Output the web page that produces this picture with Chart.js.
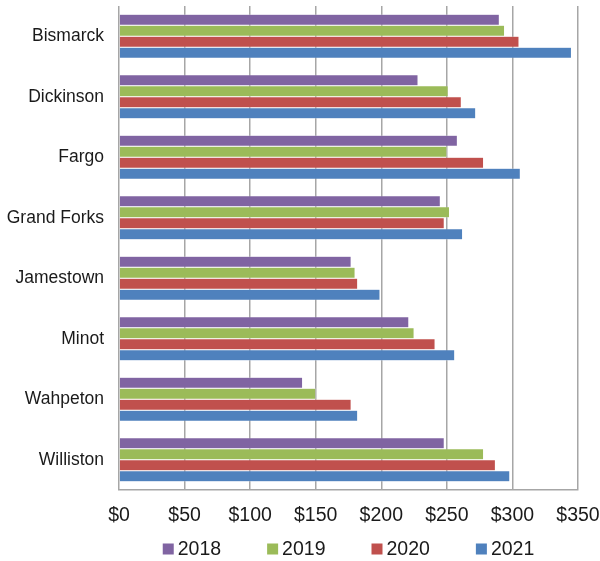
<!DOCTYPE html>
<html>
<head>
<meta charset="utf-8">
<script src="https://cdn.jsdelivr.net/npm/chart.js@4"></script>
<style>
    body { margin: 0; background: #fff; }
    #wrap { width: 600px; height: 561px; }
</style>
</head>
<body>
<div id="wrap"><canvas id="chart"></canvas></div>
<script>
// Cities and yearly values
const cities = ['Bismarck', 'Dickinson', 'Fargo', 'Grand Forks', 'Jamestown', 'Minot', 'Wahpeton', 'Williston'];
const years = ['2018', '2019', '2020', '2021'];
const values2018 = [290, 228, 258, 245, 177, 221, 140, 248];
const values2019 = [294, 251, 250, 252, 180, 225, 150, 278];
const values2020 = [305, 261, 278, 248, 182, 241, 177, 287];
const values2021 = [345, 272, 306, 262, 199, 256, 182, 298];
const colors = ['#8064a2', '#9bbb59', '#c0504d', '#4f81bd'];

const series = [values2018, values2019, values2020, values2021];
const fontFamily = 'Liberation Sans';

const datasets = series.map((vals, i) => ({
    label: years[i],
    data: vals,
    backgroundColor: colors[i],
    borderColor: 'rgba(255,255,255,0.6)',
    borderWidth: 0.5,
    barPercentage: 1.0,
    categoryPercentage: 0.73
}));

// the built-in legend spaces rows and items with the same padding,
// so draw a simple one under the axis instead
const bottomLegend = {
    id: 'bottomLegend',
    afterDraw(chart) {
        const ctx = chart.ctx;
        const area = chart.chartArea;
        const box = 11, gap = 4, spacing = 46;
        ctx.save();
        ctx.font = '19.5px ' + fontFamily;
        ctx.textBaseline = 'middle';
        const widths = chart.data.datasets.map(d => box + gap + ctx.measureText(d.label).width);
        const total = widths.reduce((a, b) => a + b, 0) + spacing * (widths.length - 1);
        let x = (area.left + area.right) / 2 - total / 2;
        const y = 549;
        chart.data.datasets.forEach((d, i) => {
            ctx.fillStyle = d.backgroundColor;
            ctx.fillRect(x, y - box / 2, box, box);
            ctx.fillStyle = '#1a1a1a';
            ctx.fillText(d.label, x + box + gap, y + 1);
            x += widths[i] + spacing;
        });
        ctx.restore();
    }
};

new Chart(document.getElementById('chart'), {
    type: 'bar',
    data: { labels: cities, datasets: datasets },
    options: {
        indexAxis: 'y',
        responsive: true,
        maintainAspectRatio: false,
        animation: false,
        layout: { padding: { top: 6, right: 22, left: 0, bottom: 34 } },
        plugins: {
            legend: { display: false },
            tooltip: { enabled: false }
        },
        scales: {
            x: {
                min: 0,
                max: 350,
                afterFit: scale => {
                    scale.height = 37;
                    scale.paddingLeft = 0;
                    scale.paddingRight = 0;
                },
                ticks: {
                    stepSize: 50,
                    color: '#1a1a1a',
                    padding: 14,
                    maxRotation: 0,
                    font: { family: fontFamily, size: 19.5 },
                    callback: v => '$' + v
                },
                grid: { color: '#a6a6a6', lineWidth: 1.5, drawTicks: false },
                border: { color: '#a6a6a6', width: 1.5 }
            },
            y: {
                afterFit: scale => {
                    scale.width = 119;
                    scale.paddingTop = 0;
                    scale.paddingBottom = 0;
                },
                ticks: {
                    color: '#1a1a1a',
                    padding: 15,
                    font: { family: fontFamily, size: 17.5 }
                },
                grid: { display: false, drawTicks: false },
                border: { display: false }
            }
        }
    },
    plugins: [bottomLegend]
});
</script>
</body>
</html>
